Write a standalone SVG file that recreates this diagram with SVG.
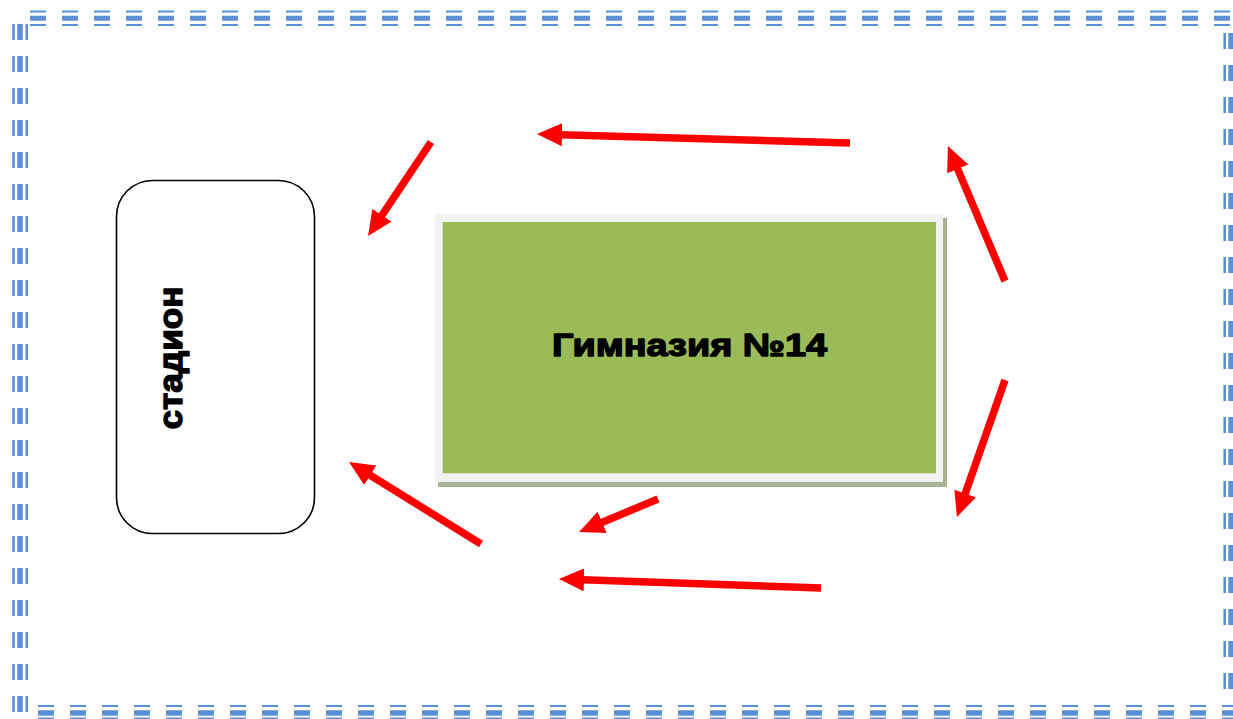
<svg xmlns="http://www.w3.org/2000/svg" width="1233" height="719" viewBox="0 0 1233 719">
<defs>
<style>
.bh{stroke:#5b8fd9;fill:none;stroke-dasharray:16 16}
.arr{stroke:#ff0000;stroke-width:7.5;fill:none;marker-end:url(#ah)}
.lbl{font-family:"Liberation Sans",Arial,sans-serif;font-weight:bold;fill:#000;stroke:#000;stroke-width:1.4;stroke-linejoin:round}
</style>
<marker id="ah" markerUnits="userSpaceOnUse" markerWidth="26" markerHeight="24" refX="1" refY="11.5" orient="auto" viewBox="0 0 26 24">
<path d="M0,0 L25,11.5 L0,23 z" fill="#ff0000"/>
</marker>
</defs>
<rect width="1233" height="719" fill="#ffffff"/>
<g id="border">
<line class="bh" x1="30" y1="11.5" x2="1240" y2="11.5" stroke-width="2"/>
<line class="bh" x1="30" y1="18.3" x2="1240" y2="18.3" stroke-width="5"/>
<line class="bh" x1="30" y1="25" x2="1240" y2="25" stroke-width="2.2"/>
<line class="bh" x1="38" y1="706" x2="1240" y2="706" stroke-width="2"/>
<line class="bh" x1="38" y1="713" x2="1240" y2="713" stroke-width="5.5"/>
<line class="bh" x1="38" y1="718.5" x2="1240" y2="718.5" stroke-width="2"/>
<line class="bh" x1="13.5" y1="24" x2="13.5" y2="713" stroke-width="2.6"/>
<line class="bh" x1="20" y1="24" x2="20" y2="713" stroke-width="5.5"/>
<line class="bh" x1="26.7" y1="24" x2="26.7" y2="713" stroke-width="2.5"/>
<line class="bh" x1="1224.7" y1="33" x2="1224.7" y2="705" stroke-width="2.6"/>
<line class="bh" x1="1230.8" y1="33" x2="1230.8" y2="705" stroke-width="5"/>
</g>
<g id="stadium">
<rect x="116.5" y="180.5" width="198" height="353" rx="36" ry="36" fill="#ffffff" stroke="#000" stroke-width="1.6"/>
<text class="lbl" transform="translate(181.5,358) rotate(-90)" x="0" y="0" text-anchor="middle" font-size="34" textLength="143" lengthAdjust="spacingAndGlyphs">стадион</text>
</g>
<g id="gymnasium">
<rect x="438" y="218" width="509" height="269" fill="#a7b195"/>
<rect x="435" y="214" width="508" height="268" fill="#f2f2f2"/>
<rect x="442.7" y="222" width="493.3" height="251.3" fill="#9bbb59"/>
<text class="lbl" x="689.5" y="356" text-anchor="middle" font-size="32" textLength="275" lengthAdjust="spacingAndGlyphs">Гимназия №14</text>
</g>
<g id="connectors">
<line class="arr" x1="850" y1="143" x2="561" y2="134.7"/>
<line class="arr" x1="431" y1="142" x2="381.4" y2="216.1"/>
<line class="arr" x1="1005" y1="281" x2="957.3" y2="168.1"/>
<line class="arr" x1="1005" y1="380" x2="964.9" y2="494.4"/>
<line class="arr" x1="658" y1="499" x2="601.2" y2="522.7"/>
<line class="arr" x1="481" y1="544" x2="369.4" y2="474.7"/>
<line class="arr" x1="821" y1="588" x2="583" y2="579.8"/>
</g>
</svg>
